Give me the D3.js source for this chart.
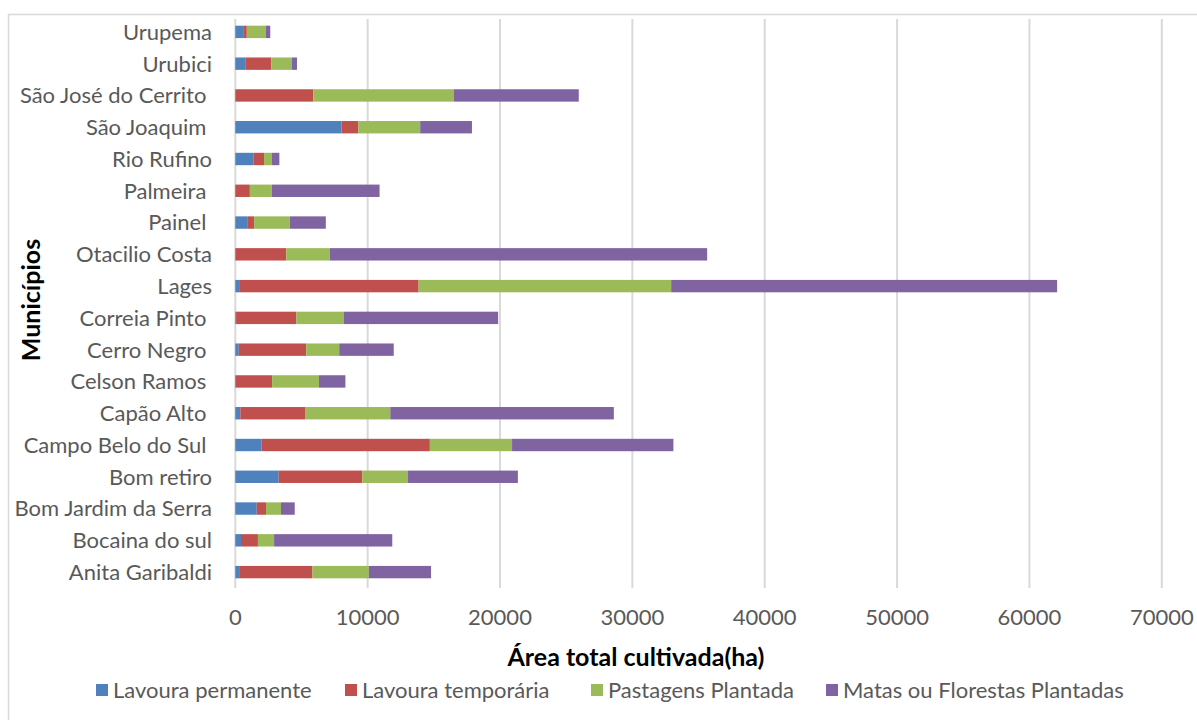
<!DOCTYPE html>
<html>
<head>
<meta charset="utf-8">
<script src="https://cdn.jsdelivr.net/npm/d3@7"></script>
<style>
  body { margin: 0; background: #fff; }
  text { font-family: Lato, "Open Sans", sans-serif; white-space: pre; }
</style>
</head>
<body>
<script>
const width = 1197;
const height = 720;

// municipios, bottom to top as in the chart
const municipios = ["Anita Garibaldi", "Bocaina do sul", "Bom Jardim da Serra", "Bom retiro",
  "Campo Belo do Sul ", "Capão Alto ", "Celson Ramos ", "Cerro Negro ", "Correia Pinto ",
  "Lages", "Otacilio Costa", "Painel ", "Palmeira ", "Rio Rufino", "São Joaquim ",
  "São José do Cerrito ", "Urubici", "Urupema"];

const lavouraPermanente = [290, 430, 1620, 3280, 1970, 380, 0, 260, 60, 350, 0, 900, 0, 1360, 8030, 0, 750, 650];
const lavouraTemporaria = [5540, 1280, 700, 6320, 12730, 4930, 2780, 5100, 4560, 13500, 3850, 520, 1100, 810, 1270, 5900, 1970, 220];
const pastagensPlantada = [4260, 1220, 1130, 3450, 6210, 6400, 3540, 2490, 3590, 19080, 3280, 2700, 1650, 580, 4670, 10600, 1540, 1420];
const matasFlorestas = [4700, 8930, 1040, 8300, 12190, 16890, 2000, 4120, 11650, 29160, 28520, 2720, 8150, 580, 3910, 9450, 400, 350];

const seriesNames = ["Lavoura permanente", "Lavoura temporária", "Pastagens Plantada", "Matas ou Florestas Plantadas"];
const colors = ["#4f81bd", "#c0504d", "#9bbb59", "#8064a2"];
const xTicks = [0, 10000, 20000, 30000, 40000, 50000, 60000, 70000];

const rows = municipios.map((m, i) => ({
  name: m,
  s0: lavouraPermanente[i],
  s1: lavouraTemporaria[i],
  s2: pastagensPlantada[i],
  s3: matasFlorestas[i]
}));

const stacked = d3.stack().keys(["s0", "s1", "s2", "s3"])(rows);

const svg = d3.select("body")
  .append("svg")
  .attr("width", width)
  .attr("height", height)
  .attr("viewBox", [0, 0, width, height]);

// chart border
svg.append("rect")
  .attr("x", 8.5).attr("y", 14.5)
  .attr("width", 1200).attr("height", 720)
  .attr("fill", "none")
  .attr("stroke", "#d9d9d9")
  .attr("stroke-width", 1.5);

const margin = {left: 235.3, right: 1161.8, top: 16, bottom: 588};

const x = d3.scaleLinear()
  .domain([0, 70000])
  .range([margin.left, margin.right]);

const y = d3.scaleBand()
  .domain(municipios.slice().reverse())
  .range([margin.top, margin.bottom])
  .paddingInner(0.61)
  .paddingOuter(0.305);

// gridlines
svg.append("g")
  .selectAll("line")
  .data(xTicks)
  .enter()
  .append("line")
  .attr("x1", d => x(d)).attr("x2", d => x(d))
  .attr("y1", 19).attr("y2", 588)
  .attr("stroke", "#d9d9d9")
  .attr("stroke-width", 2);

// bars
svg.append("g")
  .selectAll("g")
  .data(stacked)
  .enter()
  .append("g")
  .attr("fill", (d, i) => colors[i])
  .selectAll("rect")
  .data(d => d)
  .enter()
  .append("rect")
  .attr("x", d => x(d[0]))
  .attr("width", d => x(d[1]) - x(d[0]))
  .attr("y", d => y(d.data.name))
  .attr("height", y.bandwidth());

// category labels
svg.append("g")
  .selectAll("text")
  .data(municipios)
  .enter()
  .append("text")
  .attr("x", 212)
  .attr("y", d => y(d) + y.bandwidth() / 2)
  .attr("dy", "0.36em")
  .attr("text-anchor", "end")
  .attr("font-size", 22)
  .attr("fill", "#595959")
  .text(d => d);

// x tick labels
svg.append("g")
  .selectAll("text")
  .data(xTicks)
  .enter()
  .append("text")
  .attr("x", d => x(d))
  .attr("y", 625)
  .attr("text-anchor", "middle")
  .attr("font-size", 22)
  .attr("fill", "#595959")
  .text(d => d);

// axis titles
svg.append("text")
  .attr("x", 636).attr("y", 666)
  .attr("text-anchor", "middle")
  .attr("font-size", 25)
  .attr("font-weight", "bold")
  .attr("fill", "#000")
  .text("Área total cultivada(ha)");

svg.append("text")
  .attr("transform", "translate(40,300) rotate(-90)")
  .attr("text-anchor", "middle")
  .attr("font-size", 25)
  .attr("font-weight", "bold")
  .attr("fill", "#000")
  .text("Municípios");

// legend
const legendX = [96, 345, 591, 826];
const legend = svg.append("g")
  .selectAll("g")
  .data(seriesNames)
  .enter()
  .append("g")
  .attr("transform", (d, i) => `translate(${legendX[i]},690)`);

legend.append("rect")
  .attr("x", 0).attr("y", -6)
  .attr("width", 12).attr("height", 12)
  .attr("fill", (d, i) => colors[i]);

legend.append("text")
  .attr("x", 17)
  .attr("dy", "0.36em")
  .attr("font-size", 22)
  .attr("fill", "#595959")
  .text(d => d);
</script>
</body>
</html>
